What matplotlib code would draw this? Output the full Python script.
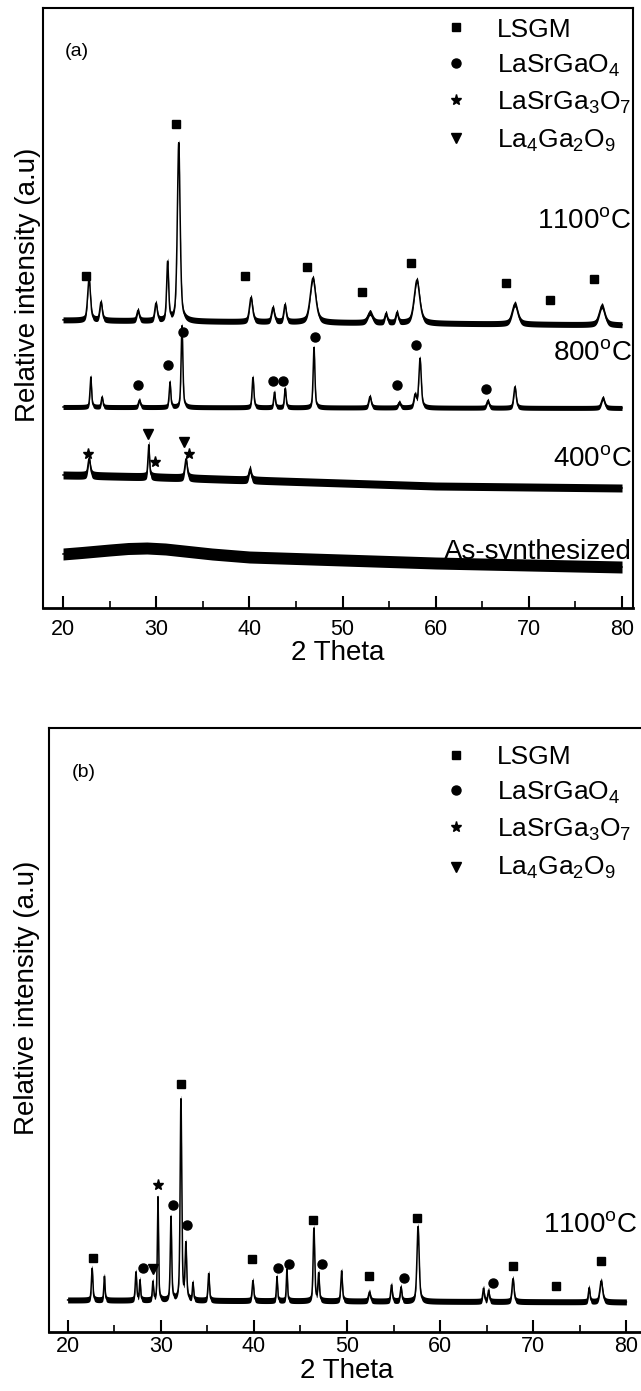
import numpy as np
import matplotlib.pyplot as plt
from matplotlib.ticker import MultipleLocator

plt.rcParams['font.family'] = ['Liberation Sans', 'DejaVu Sans']
plt.rcParams['mathtext.fontset'] = 'custom'
plt.rcParams['mathtext.rm'] = 'Liberation Sans'
plt.rcParams['mathtext.it'] = 'Liberation Sans:italic'
plt.rcParams['mathtext.bf'] = 'Liberation Sans:bold'

# scan range
two_theta = np.linspace(20, 80, 3001)

# ---- (a) powders calcined at different temperatures ----
# baseline nodes (2theta, level) and peaks: centre, height, fwhm ; noise = half band
base_1100 = [[20, 80], [288, 283]]
pk_1100_pos = [22.79, 24.08, 28.05, 29.98, 31.23, 32.42, 40.18, 42.54, 43.83, 46.83,
               52.95, 54.67, 55.85, 57.99, 68.51, 77.85]
pk_1100_h = [42, 18, 10, 17, 58, 178, 24, 14, 17, 44, 10, 9, 10, 43, 20, 19]
pk_1100_w = [0.35, 0.3, 0.3, 0.3, 0.25, 0.35, 0.4, 0.35, 0.3, 0.7, 0.6, 0.3, 0.3, 0.7, 0.7, 0.7]
noise_1100 = 3

base_800 = [[20, 80], [201, 200]]
pk_800_pos = [22.98, 24.19, 28.2, 31.48, 32.77, 40.39, 42.7, 43.85, 46.94, 52.95,
              56.1, 57.8, 58.32, 65.6, 68.51, 77.96]
pk_800_h = [30, 10, 7, 25, 82, 30, 15, 19, 60, 11, 5, 12, 49, 7, 21, 10]
pk_800_w = [0.2, 0.2, 0.25, 0.2, 0.22, 0.22, 0.2, 0.2, 0.22, 0.3, 0.3, 0.3, 0.3, 0.3, 0.3, 0.4]
noise_800 = 2.5

base_400 = [[20, 30, 40, 50, 60, 70, 80], [133, 131, 128, 125, 122, 121, 120]]
pk_400_pos = [22.8, 29.2, 33.2, 40.07]
pk_400_h = [17, 32, 19, 11]
pk_400_w = [0.3, 0.2, 0.3, 0.3]
noise_400 = 4

base_as = [[20, 22, 25, 27, 29, 31, 33, 36, 40, 45, 50, 55, 60, 70, 80],
           [54, 55.5, 58, 59.5, 60, 59, 57, 54, 51, 49.5, 48, 46.5, 45, 43, 41]]
noise_as = 6

a_lsgm_x = [22.47, 32.13, 39.53, 46.19, 52.09, 57.35, 67.55, 72.27, 76.99]
a_lsgm_y = [332, 484, 332, 341, 316, 345, 325, 308, 329]
a_lsgo4_x = [28.05, 31.27, 32.85, 42.54, 43.61, 47.05, 55.85, 57.89, 65.4]
a_lsgo4_y = [223, 243, 276, 227, 227, 271, 223, 263, 219]
a_lsg3o7_x = [22.68, 29.82, 33.52]
a_lsg3o7_y = [154, 146, 154]
a_l4g2o9_x = [29.12, 32.99]
a_l4g2o9_y = [174, 166]

# ---- (b) 1100 C ----
base_b = [[20, 80], [32, 30]]
pk_b_pos = [22.63, 23.95, 27.34, 27.77, 29.16, 29.70, 31.10, 32.17, 32.70, 33.46, 35.15,
            39.90, 42.48, 43.55, 46.45, 46.96, 49.42, 52.41, 54.78, 55.80, 57.63, 64.66,
            65.2, 67.83, 76.0, 77.3]
pk_b_h = [32, 24, 28, 20, 18, 103, 83, 202, 55, 17, 27, 20, 24, 32, 73, 27, 30, 9, 16, 14,
          75, 13, 11, 23, 14, 21]
pk_b_w = [0.18, 0.15, 0.18, 0.15, 0.15, 0.15, 0.18, 0.2, 0.2, 0.15, 0.18, 0.2, 0.15, 0.15,
          0.2, 0.18, 0.2, 0.25, 0.2, 0.2, 0.28, 0.2, 0.2, 0.25, 0.2, 0.35]
noise_b = 3

b_lsgm_x = [22.72, 32.20, 39.85, 46.35, 52.41, 57.52, 67.83, 72.45, 77.29]
b_lsgm_y = [74, 248, 73, 112, 56, 114, 66, 46, 71]
b_lsgo4_x = [28.09, 31.29, 32.81, 42.59, 43.77, 47.27, 56.09, 65.63]
b_lsgo4_y = [64, 127, 107, 64, 68, 68, 54, 49]
b_lsg3o7_x = [29.74]
b_lsg3o7_y = [147]
b_l4g2o9_x = [29.17]
b_l4g2o9_y = [63]

phase_names = ['LSGM', 'LaSrGaO$_4$', 'LaSrGa$_3$O$_7$', 'La$_4$Ga$_2$O$_9$']
phase_marks = [('s', 6), ('o', 6.5), ('*', 8), ('v', 7)]


def profile(base, pos, h, w):
    y = np.interp(two_theta, base[0], base[1])
    for c, hh, ww in zip(pos, h, w):
        d = (two_theta - c) / ww
        y = y + hh * (0.5 * np.exp(-4 * np.log(2) * d ** 2) + 0.5 / (1 + 4 * d ** 2))
    return y


def draw(ax, y, noise):
    ax.fill_between(two_theta, y - noise, y + noise, color='k', lw=0)
    ax.plot(two_theta, y, color='k', lw=1.1)


def style(ax, xlim, ylim, pad, labelpad, ylab_xy):
    ax.set_xlim(*xlim)
    ax.set_ylim(*ylim)
    ax.set_xticks(range(20, 81, 10))
    ax.xaxis.set_minor_locator(MultipleLocator(5))
    ax.set_yticks([])
    ax.tick_params(axis='x', which='major', direction='in', length=8.6, width=1.5,
                   labelsize=15.5, pad=pad)
    ax.tick_params(axis='x', which='minor', direction='in', length=5, width=1.2)
    for s in ax.spines.values():
        s.set_linewidth(1.5)
    ax.spines['bottom'].set_linewidth(2)
    ax.set_xlabel('2 Theta', fontsize=20, labelpad=labelpad)
    ax.set_ylabel('Relative intensity (a.u)', fontsize=20)
    ax.yaxis.set_label_coords(*ylab_xy)


def legend(ax, mx, tx, my, ty):
    for (m, ms), name, y1, y2 in zip(phase_marks, phase_names, my, ty):
        ax.plot([mx], [y1], marker=m, ms=ms, color='k', ls='none',
                transform=ax.transAxes, clip_on=False)
        ax.text(tx, y2, name, transform=ax.transAxes, fontsize=19, va='baseline')


fig = plt.figure(figsize=(6.41, 13.91), dpi=100)
ax_a = fig.add_axes([43 / 641, 1 - 608 / 1391, 590 / 641, 600 / 1391])
ax_b = fig.add_axes([49 / 641, 1 - 1332 / 1391, 596 / 641, 604 / 1391])

draw(ax_a, profile(base_1100, pk_1100_pos, pk_1100_h, pk_1100_w), noise_1100)
draw(ax_a, profile(base_800, pk_800_pos, pk_800_h, pk_800_w), noise_800)
draw(ax_a, profile(base_400, pk_400_pos, pk_400_h, pk_400_w), noise_400)
draw(ax_a, profile(base_as, [], [], []), noise_as)

for xs, ys, (m, ms) in zip([a_lsgm_x, a_lsgo4_x, a_lsg3o7_x, a_l4g2o9_x],
                           [a_lsgm_y, a_lsgo4_y, a_lsg3o7_y, a_l4g2o9_y], phase_marks):
    ax_a.plot(xs, ys, marker=m, ms=ms, color='k', ls='none')

for txt, yb in [('1100$^{\\rm o}$C', 0.6333), ('800$^{\\rm o}$C', 0.4133),
                ('400$^{\\rm o}$C', 0.2367), ('As-synthesized', 0.0817)]:
    ax_a.text(0.998, yb, txt, transform=ax_a.transAxes, ha='right', va='baseline', fontsize=20)
ax_a.text(0.0373, 0.9267, '(a)', transform=ax_a.transAxes, fontsize=14, va='center')
legend(ax_a, 0.700, 0.7695, [0.9683, 0.9083, 0.8467, 0.7833], [0.9517, 0.8917, 0.83, 0.7667])
style(ax_a, (17.85, 81.18), (0, 600), 8, 0, (-0.004, 0.538))

draw(ax_b, profile(base_b, pk_b_pos, pk_b_h, pk_b_w), noise_b)
for xs, ys, (m, ms) in zip([b_lsgm_x, b_lsgo4_x, b_lsg3o7_x, b_l4g2o9_x],
                           [b_lsgm_y, b_lsgo4_y, b_lsg3o7_y, b_l4g2o9_y], phase_marks):
    ax_b.plot(xs, ys, marker=m, ms=ms, color='k', ls='none')
ax_b.text(0.988, 0.1656, '1100$^{\\rm o}$C', transform=ax_b.transAxes, ha='right',
          va='baseline', fontsize=20)
ax_b.text(0.0386, 0.9255, '(b)', transform=ax_b.transAxes, fontsize=14, va='center')
legend(ax_b, 0.683, 0.752, [0.9553, 0.8974, 0.8361, 0.7699], [0.9404, 0.8808, 0.8195, 0.7566])
style(ax_b, (18.0, 82.0), (0, 604), 3, 0.7, (-0.015, 0.553))

fig.savefig('out.png', dpi=100)
